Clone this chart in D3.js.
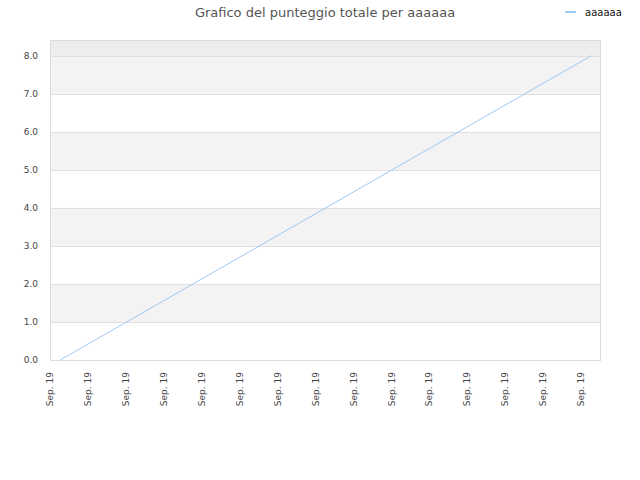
<!DOCTYPE html>
<html><head><meta charset="utf-8">
<script src="https://cdn.jsdelivr.net/npm/d3@7"></script>
<style>
html,body{margin:0;padding:0;background:#fff;}
svg{display:block;font-family:"DejaVu Sans",sans-serif;}
</style></head>
<body><svg id="c" width="640" height="480"></svg>
<script>
const title = "Grafico del punteggio totale per aaaaaa";
const seriesName = "aaaaaa";
const dates = ["2019-09-01T13:00:00", "2019-09-29T13:00:00"];
const values = [0, 8];
const yTicks = [0, 1, 2, 3, 4, 5, 6, 7, 8];
const xTickDates = ["2019-09-01","2019-09-03","2019-09-05","2019-09-07","2019-09-09","2019-09-11","2019-09-13","2019-09-15","2019-09-17","2019-09-19","2019-09-21","2019-09-23","2019-09-25","2019-09-27","2019-09-29"];

const parse = d3.isoParse;
const svg = d3.select("#c");
const L = 50.5, R = 600.5, T = 40.5, B = 360;

const x = d3.scaleTime().domain([new Date(2019,8,1), new Date(2019,8,30)]).range([50, 600]);
const y = d3.scaleLinear().domain([0, 8.4]).range([B, T]);

// bands
const bands = [[1,2],[3,4],[5,6],[7,8]];
svg.append("g").selectAll("rect").data(bands).join("rect")
  .attr("x", L).attr("width", R - L)
  .attr("y", d => y(d[1])).attr("height", d => y(d[0]) - y(d[1]))
  .attr("fill", "#f3f3f3");
svg.append("rect").attr("x", L).attr("width", R - L)
  .attr("y", y(8.4)).attr("height", y(8) - y(8.4)).attr("fill", "#ededed");

// grid lines
svg.append("g").selectAll("line").data(yTicks).join("line")
  .attr("x1", L).attr("x2", R)
  .attr("y1", d => Math.round(y(d)) + 0.5).attr("y2", d => Math.round(y(d)) + 0.5)
  .attr("stroke", "#e0e0e0").attr("stroke-width", 1);

// border
svg.append("rect").attr("x", L).attr("y", T).attr("width", R - L).attr("height", B - T + 0.5)
  .attr("fill", "none").attr("stroke", "#dcdcdc").attr("stroke-width", 1);

// y labels
svg.append("g").selectAll("text").data(yTicks).join("text")
  .attr("x", 38).attr("y", d => y(d)).attr("dy", "0.35em")
  .attr("text-anchor", "end").attr("font-size", 9).attr("fill", "#444")
  .text(d => d3.format(".1f")(d));

// x labels
const fmt = d3.timeFormat("%b. %y");
svg.append("g").selectAll("text").data(xTickDates.map(parse)).join("text")
  .attr("transform", d => `translate(${x(d)},372) rotate(-90)`)
  .attr("text-anchor", "end").attr("dy", "0.35em")
  .attr("font-size", 9).attr("fill", "#444")
  .text(d => fmt(d));

// line
const data = dates.map((d, i) => ({date: parse(d), value: values[i]}));
svg.append("path").datum(data)
  .attr("d", d3.line().x(d => x(d.date)).y(d => y(d.value)))
  .attr("fill", "none").attr("stroke", "#9ec9f3").attr("stroke-width", 1);

// title
svg.append("text").attr("x", 325).attr("y", 17).attr("text-anchor", "middle")
  .attr("font-size", 13).attr("fill", "#555").text(title);

// legend
svg.append("line").attr("x1", 565).attr("x2", 576).attr("y1", 12).attr("y2", 12)
  .attr("stroke", "#9ec9f3").attr("stroke-width", 2);
svg.append("text").attr("x", 585).attr("y", 12).attr("dy", "0.35em")
  .attr("font-size", 10).attr("fill", "#111").text(seriesName);
</script></body></html>
